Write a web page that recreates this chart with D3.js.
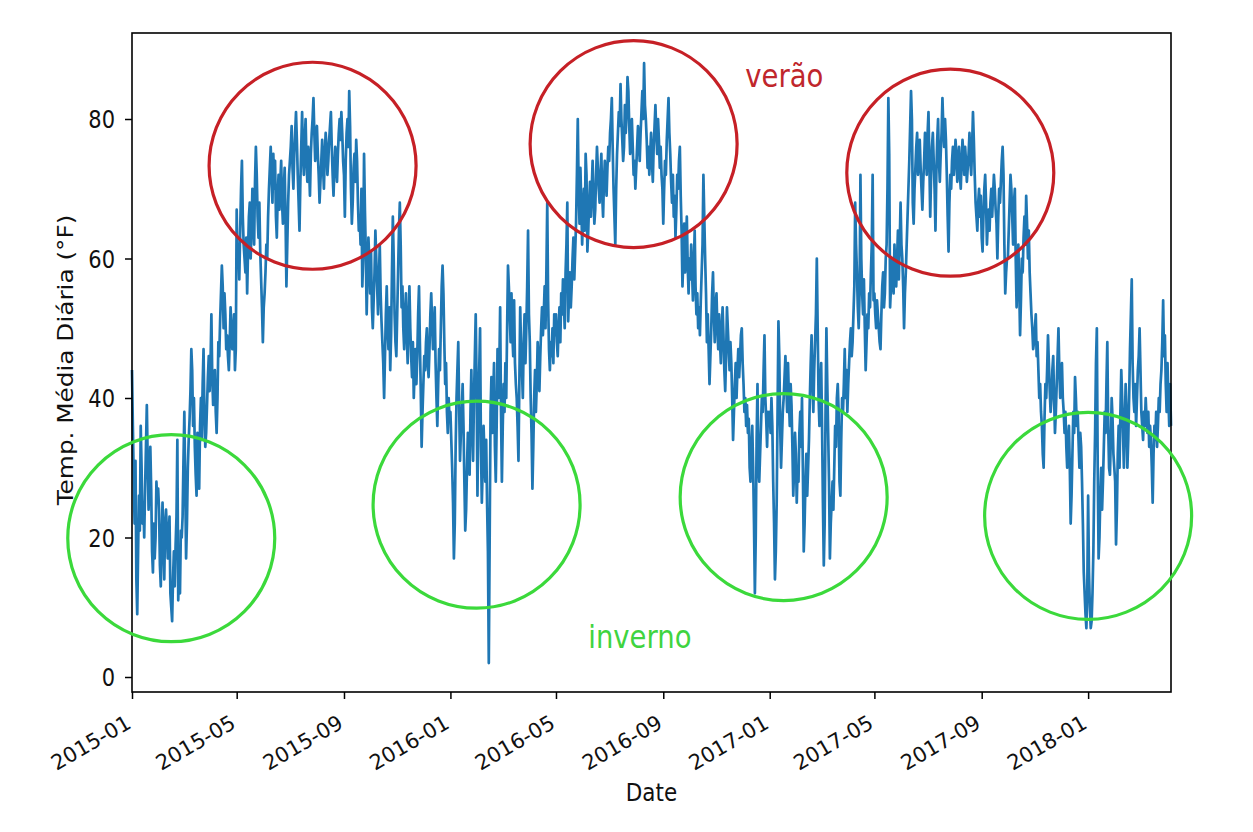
<!DOCTYPE html>
<html>
<head>
<meta charset="utf-8">
<script src="https://cdn.jsdelivr.net/npm/d3@7"></script>
<style>
  html, body { margin: 0; padding: 0; background: #ffffff; }
  text { font-family: "DejaVu Sans", sans-serif; }
</style>
</head>
<body>
<svg id="chart" width="1253" height="832"></svg>
<script>
// ---------------- DATA ----------------
const startDate = "2015-01-01";

const temps2015 = [
  44,36,28,22,31,14,9,18,26,21,36,30,22,25,20,27,33,39,31,24,28,33,27,18,15,22,17,20,28,25,27,
  24,16,13,20,25,19,14,22,24,21,17,20,23,12,10,8,14,18,13,19,23,34,11,16,12,21,20,23,
  31,38,28,17,22,30,34,37,41,47,44,36,40,33,29,26,35,31,27,36,40,34,42,47,38,33,35,39,43,46,41,
  45,52,43,39,41,44,38,35,40,48,46,51,55,59,56,50,55,52,47,49,46,44,48,53,50,47,49,52,44,47,
  67,59,62,57,64,70,74,66,62,60,58,63,55,61,66,68,60,64,70,67,62,71,76,72,66,63,68,61,57,53,48,
  53,55,58,62,60,66,70,73,76,72,68,75,70,74,66,63,69,72,67,71,74,68,65,70,73,66,56,62,68,72,
  74,76,79,73,70,75,78,81,77,72,68,64,71,76,81,75,72,77,80,74,71,76,73,69,75,78,80,83,78,74,77,
  79,75,72,68,71,74,77,73,70,75,78,76,72,74,77,79,81,76,72,69,73,76,74,71,75,78,80,77,81,78,74,
  72,66,74,78,80,76,84,79,70,65,68,73,75,71,77,74,68,64,66,62,70,56,60,75,67,61,52,58,63,60,
  55,61,53,50,54,58,64,60,56,52,57,62,55,51,48,45,40,46,52,56,50,47,53,44,49,58,66,60,52,48,46,
  52,58,64,68,62,53,56,50,47,52,55,49,45,51,56,50,46,43,48,40,44,47,42,46,52,56,48,41,33,38,
  42,46,44,48,50,45,43,47,52,55,51,47,49,53,45,40,36,42,47,44,50,56,59,55,48,42,45,38,35,40,37
];

const temps2016 = [
  38,34,30,25,17,22,33,40,44,48,39,31,35,38,42,36,28,21,24,30,35,33,29,38,44,36,31,40,46,52,42,
  26,38,44,50,33,25,30,36,32,28,34,25,18,2,20,38,43,35,40,45,33,28,36,47,40,44,53,38,28,
  36,42,38,45,40,50,59,56,52,48,55,49,46,54,45,42,40,36,31,42,53,47,44,40,48,52,45,50,56,64,52,
  48,40,35,27,33,40,44,38,42,48,45,41,46,50,53,49,52,56,50,58,68,54,47,44,48,46,50,45,52,49,
  52,48,46,50,53,48,55,52,57,54,50,58,62,68,51,55,58,53,56,60,63,57,61,65,72,80,70,65,73,68,62,
  66,70,64,75,72,61,64,68,71,66,70,74,69,65,67,72,76,73,70,68,72,75,69,66,71,74,72,69,73,76,
  74,78,80,83,76,70,66,62,70,75,78,81,79,85,80,77,74,76,82,78,81,86,84,79,75,78,80,76,72,74,70,
  73,76,79,77,74,78,81,84,80,88,82,80,77,73,76,72,75,78,74,71,76,79,82,78,75,80,77,73,76,72,70,
  65,70,74,72,77,80,83,78,75,71,68,72,66,69,63,67,72,70,74,76,69,64,56,60,65,58,62,66,59,55,
  60,57,62,58,54,59,64,56,52,55,50,53,49,54,58,62,72,66,60,55,48,52,47,42,46,50,55,58,52,48,53,
  55,50,47,52,48,45,50,53,49,44,41,46,53,50,47,44,48,45,40,34,38,42,45,40,44,47,43,46,49,50,
  45,42,38,40,36,39,35,37,30,28,33,36,30,22,12,20,34,42,30,28,32,36,40,38,44,49,40,37,33,38,36
];

const temps2017 = [
  38,35,40,36,28,22,14,18,25,38,51,46,36,30,34,38,40,43,46,42,38,45,40,36,42,39,33,26,30,35,32,
  25,30,28,35,38,33,40,30,18,22,28,32,26,30,34,40,45,49,42,38,44,48,52,60,50,40,36,42,
  45,36,25,16,22,38,50,42,35,28,17,22,25,28,24,30,36,33,40,42,38,28,26,34,40,38,42,47,40,44,38,
  42,45,48,50,46,48,52,56,68,62,58,53,50,55,72,60,55,52,57,50,44,48,52,50,55,53,58,62,72,54,
  55,52,50,54,52,50,48,47,52,56,58,53,55,60,62,70,83,75,53,56,60,58,55,62,58,56,60,64,57,62,68,
  62,60,56,50,55,58,62,66,70,74,79,84,80,68,65,70,73,76,78,72,75,77,73,70,67,71,74,78,76,72,
  78,81,74,66,72,76,78,74,70,64,72,77,80,74,71,75,78,83,79,76,80,77,72,66,61,68,72,70,74,76,72,
  74,77,75,71,73,76,72,70,74,77,75,72,76,74,71,73,75,78,74,72,76,81,77,72,68,66,64,68,70,66,69,
  63,61,66,70,72,68,62,65,67,64,68,70,66,69,72,70,67,65,60,66,70,68,71,74,76,72,62,55,58,60,
  60,64,68,72,70,66,62,68,70,60,53,58,62,56,49,54,60,58,63,66,62,69,65,60,64,58,55,52,50,47,48,
  50,52,46,48,44,40,42,38,36,32,30,37,42,40,44,49,45,41,38,40,44,46,40,35,38,42,46,50,44,40,
  42,45,40,38,35,38,33,30,34,36,30,22,26,32,38,35,43,40,36,38,34,30,35,33,28,22,15,12,9,7,12
];

const temps2018 = [
  26,15,10,7,8,12,18,28,35,45,50,30,17,20,26,30,24,28,33,38,35,42,48,36,30,29,34,40,37,32,30,
  28,19,24,32,36,30,38,44,40,35,30,36,42,38,30,34,40,47,52,57,45,40,38,42,36,40,44,46,
  50,44,38,36,34,38,36,40,37,35,38,33,36,34,30,25,32,36,34,38,33,36,40,38,42,44,48,54,46,49,42,
  38,45,40,36,42,36
];

const yTicks = [0, 20, 40, 60, 80];
const xTickLabels = ["2015-01","2015-05","2015-09","2016-01","2016-05","2016-09",
                     "2017-01","2017-05","2017-09","2018-01"];

// annotation circles: [center date, center temperature]
const summerCenters = [["2015-07-27", 73.3], ["2016-07-29", 76.4], ["2017-07-27", 72.3]];
const winterCenters = [["2015-02-15", 19.9], ["2016-01-31", 24.7], ["2017-01-17", 25.8], ["2018-01-01", 23.1]];
// annotation labels: [text, date, temperature, kind]
const annotationLabels = [["verão", "2016-12-04", 84.6, "summer"], ["inverno", "2016-06-07", 4.2, "winter"]];

const xLabel = "Date";
const yLabel = "Temp. Média Diária (°F)";

// ---------------- STYLE / LAYOUT ----------------
const W = 1253, H = 832;
const plot = { left: 132, right: 1171, top: 33, bottom: 692 };
const yDomain = [-2.15, 92.33];
const lineColor = "#1f77b4";
const red = "#c62026", redText = "#c0262c";
const green = "#3bd93b", greenText = "#3fd43f";
const circleR = 103.5;
const vStretch = 1.15;   // vertical stretch of the glyphs in the reference
const tickFont = 21;

// ---------------- BUILD ----------------
const parseDay = d3.timeParse("%Y-%m-%d");
const parseMonth = d3.timeParse("%Y-%m");
const allTemps = [].concat(temps2015, temps2016, temps2017, temps2018);
const t0 = parseDay(startDate);
const series = allTemps.map((v, i) => ({ date: d3.timeDay.offset(t0, i), temp: v }));

const x = d3.scaleTime()
  .domain(d3.extent(series, d => d.date))
  .range([plot.left, plot.right]);
const y = d3.scaleLinear().domain(yDomain).range([plot.bottom, plot.top]);

const svg = d3.select("#chart");
svg.append("rect").attr("width", W).attr("height", H).attr("fill", "#fff");

// line
svg.append("path")
  .datum(series)
  .attr("fill", "none")
  .attr("stroke", lineColor)
  .attr("stroke-width", 2.7)
  .attr("stroke-linejoin", "round")
  .attr("d", d3.line().x(d => x(d.date)).y(d => y(d.temp)));

// y axis
const yAxis = svg.append("g")
  .attr("transform", `translate(${plot.left},0)`)
  .call(d3.axisLeft(y).tickValues(yTicks).tickSize(7).tickFormat(d3.format("d")));
yAxis.select(".domain").remove();
yAxis.selectAll(".tick line").attr("stroke", "#000").attr("stroke-width", 1.5);
yAxis.selectAll(".tick text")
  .attr("x", null).attr("dy", null)
  .attr("y", 0.36 * tickFont)
  .attr("transform", `translate(-17,0) scale(1,${vStretch})`)
  .attr("fill", "#111")
  .style("font-size", tickFont + "px")
  .style("font-family", "DejaVu Sans, sans-serif");

// x axis
const xTickDates = xTickLabels.map(s => parseMonth(s));
const xAxis = svg.append("g")
  .attr("transform", `translate(0,${plot.bottom})`)
  .call(d3.axisBottom(x).tickValues(xTickDates).tickSize(7).tickFormat(d3.timeFormat("%Y-%m")));
xAxis.select(".domain").remove();
xAxis.selectAll(".tick line").attr("stroke", "#000").attr("stroke-width", 1.5);
xAxis.selectAll(".tick text")
  .attr("y", null).attr("dy", null)
  .attr("text-anchor", "end")
  .attr("transform", "translate(0,35) rotate(-30)")
  .attr("fill", "#111")
  .style("font-size", tickFont + "px")
  .style("font-family", "DejaVu Sans, sans-serif");

// spines
svg.append("rect")
  .attr("x", plot.left).attr("y", plot.top)
  .attr("width", plot.right - plot.left).attr("height", plot.bottom - plot.top)
  .attr("fill", "none").attr("stroke", "#000").attr("stroke-width", 1.6);

// axis labels
svg.append("text")
  .attr("text-anchor", "middle")
  .attr("transform", `translate(${(plot.left + plot.right) / 2},${801}) scale(1,${vStretch})`)
  .attr("fill", "#111")
  .style("font-size", "21.5px")
  .text(xLabel);

svg.append("text")
  .attr("text-anchor", "middle")
  .attr("transform", `translate(73,${360}) scale(1,${vStretch}) rotate(-90)`)
  .attr("fill", "#111")
  .style("font-size", "21.5px")
  .text(yLabel);

// circles
svg.append("g").selectAll("circle.summer")
  .data(summerCenters).join("circle")
  .attr("cx", d => x(parseDay(d[0]))).attr("cy", d => y(d[1]))
  .attr("r", circleR)
  .attr("fill", "none").attr("stroke", red).attr("stroke-width", 3.2);

svg.append("g").selectAll("circle.winter")
  .data(winterCenters).join("circle")
  .attr("cx", d => x(parseDay(d[0]))).attr("cy", d => y(d[1]))
  .attr("r", circleR)
  .attr("fill", "none").attr("stroke", green).attr("stroke-width", 3.2);

// annotation labels
svg.append("g").selectAll("text")
  .data(annotationLabels).join("text")
  .attr("text-anchor", "start")
  .attr("transform", d => `translate(${x(parseDay(d[1]))},${y(d[2])}) scale(1,${vStretch})`)
  .attr("fill", d => d[3] === "summer" ? redText : greenText)
  .style("font-size", "27.5px")
  .text(d => d[0]);
</script>
</body>
</html>
